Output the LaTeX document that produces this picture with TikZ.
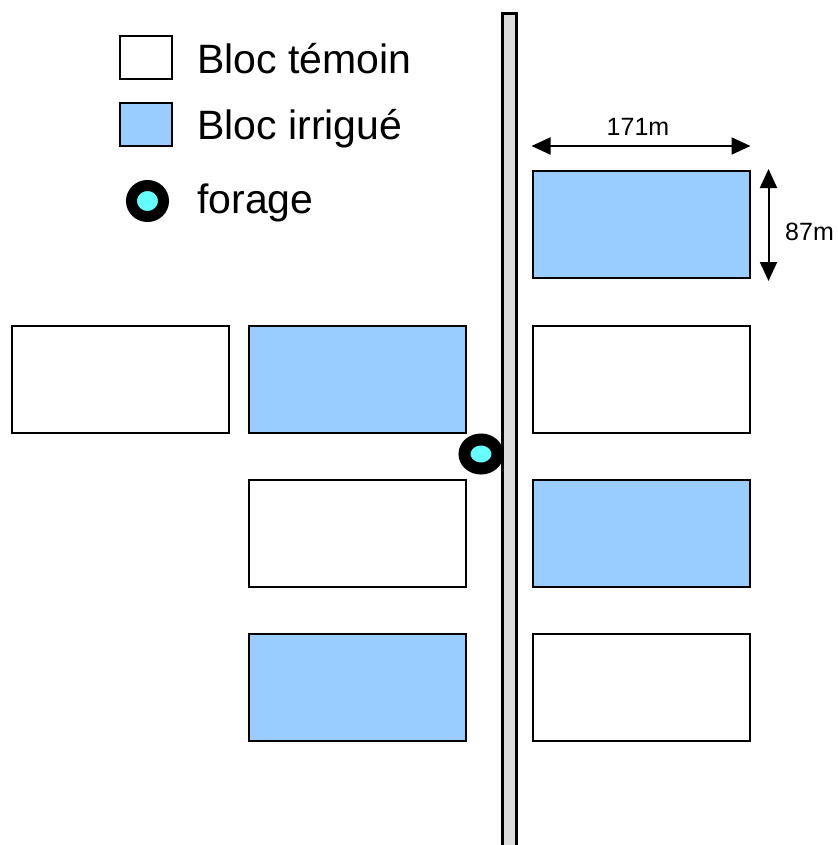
\documentclass[tikz,border=0pt]{standalone}
\usepackage{fontspec}
\setmainfont{Liberation Sans}
\usetikzlibrary{arrows.meta,shapes.geometric}
\definecolor{irrig}{HTML}{99CCFF}
\definecolor{wellwater}{HTML}{66FFFF}
\definecolor{roadgray}{HTML}{DDDDDD}
\begin{document}
\begin{tikzpicture}[x=1pt,y=-1pt,
  plot/.style={draw=black,line width=2pt,inner sep=0pt,minimum width=217pt,minimum height=107pt},
  temoin/.style={plot,fill=white},
  irrigue/.style={plot,fill=irrig},
  keybox/.style={draw=black,line width=2pt,inner sep=0pt,minimum width=52pt,minimum height=43pt},
  keytext/.style={anchor=base west,inner sep=0pt,font=\fontsize{41}{46}\selectfont},
  well/.style={ellipse,draw=black,fill=wellwater,inner sep=0pt},
  dimline/.style={line width=2pt,{Triangle[length=19pt,width=17pt]}-{Triangle[length=19pt,width=17pt]}},
  dimtext/.style={inner sep=0pt,font=\fontsize{25}{30}\selectfont}]
\useasboundingbox (0,0) rectangle (837,845);

% road
\draw[line width=2.5pt,fill=roadgray] (509.5,900) -- (502.5,900) -- (502.5,13.5) -- (516.5,13.5) -- (516.5,900);

% legend
\node[keybox,fill=white] (kt) at (146,57.5) {};
\node[keybox,fill=irrig] (ki) at (146,125) {};
\node[well,line width=11pt,minimum width=32pt,minimum height=31pt] (kf) at (147.5,201) {};
\node[keytext] (lt) at (197,74) {Bloc témoin};
\node[keytext] (li) at (197,140) {Bloc irrigué};
\node[keytext] (lf) at (197,213) {forage};

% blocks, right of the road
\node[irrigue] (r1) at (641,224.5) {};
\node[temoin]  (r2) at (641,379) {};
\node[irrigue] (r3) at (641,533) {};
\node[temoin]  (r4) at (641,687) {};
% blocks, left of the road
\node[irrigue] (m2) at (357.5,379) {};
\node[temoin]  (m3) at (357.5,533) {};
\node[irrigue] (m4) at (357.5,687) {};
\node[temoin]  (l2) at (120.5,379) {};

% borehole
\node[well,line width=12pt,minimum width=33pt,minimum height=29pt] (bh) at (481,454) {};

% dimensions
\draw[dimline] ([yshift=24pt]r1.north west) -- ([yshift=24pt]r1.north east);
\draw[dimline] ([xshift=18pt,yshift=1pt]r1.north east) -- ([xshift=18pt,yshift=-2pt]r1.south east);
\node[dimtext,anchor=base] (w) at (638,136) {171m};
\node[dimtext,anchor=base west] (h) at (785,240) {87m};
\end{tikzpicture}
\end{document}
